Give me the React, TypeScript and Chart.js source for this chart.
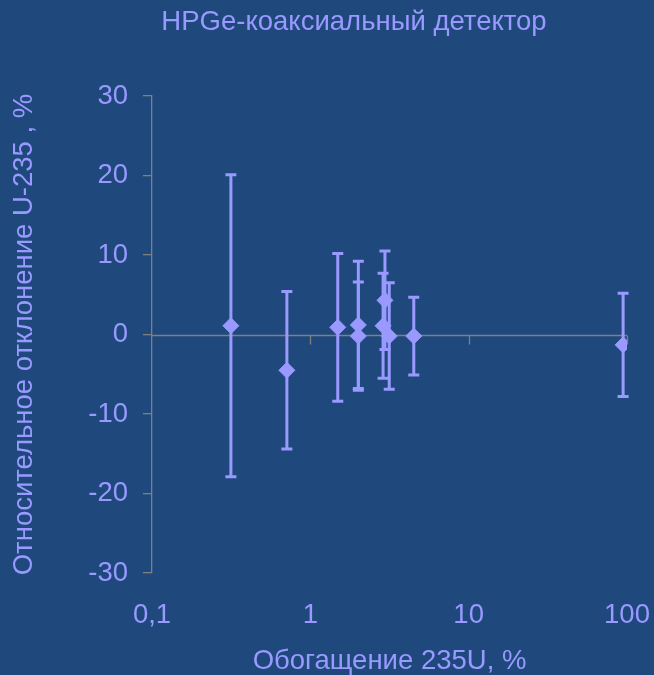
import React, { useEffect, useRef } from 'react';
import { Chart, registerables } from 'chart.js';

Chart.register(...registerables);

// Enrichment of the reference samples, % 235U
const enrichment = [0.315, 0.711, 1.49, 2.01, 2.01, 2.96, 2.88, 3.15, 4.5, 94.5];
// Relative deviation of the measured U-235 content, %
const deviation = [1.1, -4.5, 0.9, 1.2, -0.2, 4.3, 1.1, -0.2, -0.2, -1.3];
// Half-width of the uncertainty interval, %
const uncertainty = [19.0, 9.9, 9.3, 8.0, 6.8, 6.2, 6.6, 6.7, 4.9, 6.5];

const xTickValues = [0.1, 1, 10, 100];
const xTickLabels = ['0,1', '1', '10', '100'];
const yMin = -30;
const yMax = 30;
const yStep = 10;

const chartTitle = 'HPGe-коаксиальный детектор';
const xTitle = 'Обогащение 235U, %';
const yTitle = 'Относительное отклонение U-235 , %';

const BG = '#1F497D';
const INK = '#9999FF';
const AXIS = '#808080';
const FONT = '"Liberation Sans", Arial, sans-serif';
const FONT_SIZE = 27.5;

const backgroundPlugin = {
  id: 'pageBackground',
  beforeDraw(chart: any) {
    const { ctx, width, height } = chart;
    ctx.save();
    ctx.fillStyle = BG;
    ctx.fillRect(0, 0, width, height);
    ctx.restore();
  },
};

// Horizontal axis line through y = 0 with downward tick marks
const zeroAxisPlugin = {
  id: 'zeroAxis',
  beforeDatasetsDraw(chart: any) {
    const { ctx, scales } = chart;
    const xs = scales.x;
    const y0 = Math.round(scales.y.getPixelForValue(0)) + 0.5;
    ctx.save();
    ctx.strokeStyle = AXIS;
    ctx.lineWidth = 1.3;
    ctx.beginPath();
    ctx.moveTo(xs.getPixelForValue(xTickValues[0]), y0);
    ctx.lineTo(xs.getPixelForValue(xTickValues[xTickValues.length - 1]), y0);
    for (let i = 1; i < xTickValues.length; i++) {
      const px = Math.round(xs.getPixelForValue(xTickValues[i])) + 0.5;
      ctx.moveTo(px, y0);
      ctx.lineTo(px, y0 + 9);
    }
    ctx.stroke();
    ctx.restore();
  },
};

// Vertical error bars with caps
const errorBarPlugin = {
  id: 'errorBars',
  beforeDatasetsDraw(chart: any) {
    const { ctx, scales } = chart;
    ctx.save();
    ctx.strokeStyle = INK;
    ctx.lineWidth = 3;
    ctx.lineCap = 'butt';
    for (let i = 0; i < enrichment.length; i++) {
      const px = scales.x.getPixelForValue(enrichment[i]);
      const top = scales.y.getPixelForValue(deviation[i] + uncertainty[i]);
      const bottom = scales.y.getPixelForValue(deviation[i] - uncertainty[i]);
      ctx.beginPath();
      ctx.moveTo(px, top);
      ctx.lineTo(px, bottom);
      ctx.moveTo(px - 5.5, top);
      ctx.lineTo(px + 5.5, top);
      ctx.moveTo(px - 5.5, bottom);
      ctx.lineTo(px + 5.5, bottom);
      ctx.stroke();
    }
    ctx.restore();
  },
};

const titlePlugin = {
  id: 'headline',
  afterDraw(chart: any) {
    const { ctx } = chart;
    ctx.save();
    ctx.fillStyle = INK;
    ctx.font = `${FONT_SIZE}px ${FONT}`;
    ctx.textAlign = 'center';
    ctx.textBaseline = 'alphabetic';
    ctx.fillText(chartTitle, 354, 30);
    ctx.restore();
  },
};

export default function App() {
  const canvasRef = useRef<HTMLCanvasElement | null>(null);

  useEffect(() => {
    document.body.style.margin = '0';
    const canvas = canvasRef.current;
    if (!canvas) return;

    const chart = new Chart(canvas, {
      type: 'scatter',
      data: {
        datasets: [
          {
            data: enrichment.map((x, i) => ({ x, y: deviation[i] })),
            pointStyle: 'rectRot',
            pointRadius: 8,
            pointHoverRadius: 8,
            backgroundColor: INK,
            borderColor: INK,
            borderWidth: 1,
            showLine: false,
          },
        ],
      },
      options: {
        responsive: false,
        animation: false,
        devicePixelRatio: 1,
        layout: { padding: { top: 96, right: 27, left: 0, bottom: 0 } },
        plugins: {
          legend: { display: false },
          tooltip: { enabled: false },
          title: { display: false },
        },
        scales: {
          x: {
            type: 'logarithmic',
            position: 'bottom',
            min: 0.1,
            max: 100,
            afterBuildTicks(scale: any) {
              scale.ticks = xTickValues.map((v) => ({ value: v }));
            },
            afterFit(scale: any) {
              scale.height = 102;
              scale.paddingLeft = 0;
              scale.paddingRight = 0;
            },
            grid: { display: false, drawTicks: false },
            border: { display: false },
            ticks: {
              autoSkip: false,
              maxRotation: 0,
              padding: 26,
              color: INK,
              font: { family: FONT, size: FONT_SIZE },
              callback: (value: any) => {
                const idx = xTickValues.indexOf(Number(value));
                return idx >= 0 ? xTickLabels[idx] : '';
              },
            },
            title: {
              display: true,
              text: xTitle,
              color: INK,
              font: { family: FONT, size: FONT_SIZE, lineHeight: 1 },
              padding: { top: 0, bottom: 0 },
            },
          },
          y: {
            type: 'linear',
            position: 'left',
            min: yMin,
            max: yMax,
            afterFit(scale: any) {
              scale.width = 152;
            },
            grid: {
              display: true,
              drawOnChartArea: false,
              drawTicks: true,
              tickLength: 9,
              color: AXIS,
              lineWidth: 1.3,
            },
            border: { display: true, color: AXIS, width: 1.3 },
            ticks: {
              stepSize: yStep,
              padding: 15,
              color: INK,
              font: { family: FONT, size: FONT_SIZE },
            },
            title: {
              display: true,
              text: yTitle,
              color: INK,
              font: { family: FONT, size: FONT_SIZE, lineHeight: 1 },
              padding: { top: 11, bottom: 0 },
            },
          },
        },
      },
      plugins: [backgroundPlugin, zeroAxisPlugin, errorBarPlugin, titlePlugin],
    });

    return () => chart.destroy();
  }, []);

  return (
    <div style={{ width: 654, height: 675, background: BG }}>
      <canvas ref={canvasRef} width={654} height={675} style={{ display: 'block' }} />
    </div>
  );
}
